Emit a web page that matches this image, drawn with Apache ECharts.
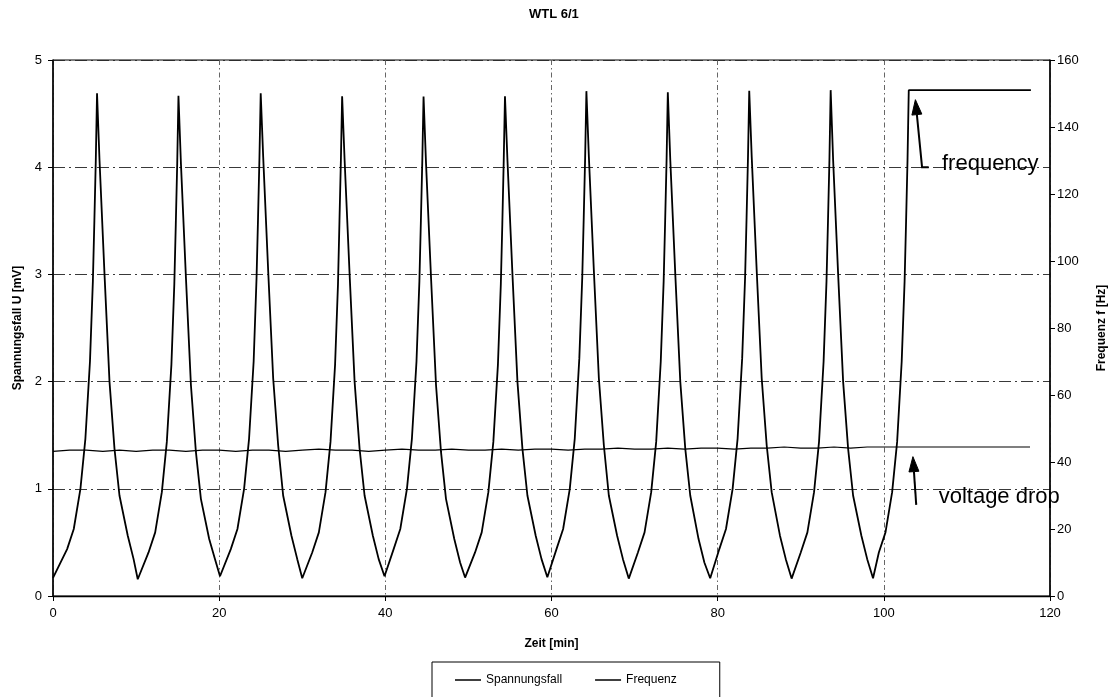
<!DOCTYPE html>
<html>
<head>
<meta charset="utf-8">
<script src="https://cdn.jsdelivr.net/npm/echarts@6/dist/echarts.min.js"></script>
<style>
  html, body { margin: 0; padding: 0; background: #fff; }
  #chart { width: 1116px; height: 697px; }
</style>
</head>
<body>
<div id="chart"></div>
<script>
// ---- chart data ----
const chartTitle = 'WTL 6/1';
const xName = 'Zeit [min]';
const yLeftName = 'Spannungsfall U [mV]';
const yRightName = 'Frequenz f [Hz]';
const seriesNames = ['Spannungsfall', 'Frequenz'];

const xRange = [0, 120, 20];      // min, max, step
const voltRange = [0, 5, 1];      // mV
const freqRange = [0, 160, 20];   // Hz

// Frequenz: periodic sweep, one row per cycle (time in min, value in Hz)
const freqTime = [
  0, 1.7, 2.5, 3.3, 3.9, 4.45, 4.8, 4.98, 5.15, 5.3, 5.6, 6.2, 6.8, 7.4, 8.0, 9.0, 9.7, 10.2,
  11.5, 12.3, 13.1, 13.7, 14.25, 14.6, 14.78, 14.95, 15.1, 15.4, 16.0, 16.6, 17.2, 17.8, 18.8, 19.5, 20.1,
  21.4, 22.2, 23.0, 23.6, 24.15, 24.5, 24.68, 24.85, 25.0, 25.3, 25.9, 26.5, 27.1, 27.7, 28.7, 29.4, 30.0,
  31.2, 32.0, 32.8, 33.4, 33.95, 34.3, 34.48, 34.65, 34.8, 35.1, 35.7, 36.3, 36.9, 37.5, 38.5, 39.2, 39.9,
  41.0, 41.8, 42.6, 43.2, 43.75, 44.1, 44.28, 44.45, 44.6, 44.9, 45.5, 46.1, 46.7, 47.3, 48.3, 49.0, 49.6,
  50.8, 51.6, 52.4, 53.0, 53.55, 53.9, 54.08, 54.25, 54.4, 54.7, 55.3, 55.9, 56.5, 57.1, 58.1, 58.8, 59.5,
  60.6, 61.4, 62.2, 62.8, 63.35, 63.7, 63.88, 64.05, 64.2, 64.5, 65.1, 65.7, 66.3, 66.9, 67.9, 68.6, 69.3,
  70.4, 71.2, 72.0, 72.6, 73.15, 73.5, 73.68, 73.85, 74.0, 74.3, 74.9, 75.5, 76.1, 76.7, 77.7, 78.4, 79.1,
  80.2, 81.0, 81.8, 82.4, 82.95, 83.3, 83.48, 83.65, 83.8, 84.1, 84.7, 85.3, 85.9, 86.5, 87.5, 88.2, 88.9,
  90.0, 90.8, 91.6, 92.2, 92.75, 93.1, 93.28, 93.45, 93.6, 93.9, 94.5, 95.1, 95.7, 96.3, 97.3, 98.0, 98.7,
  99.4, 100.2, 101.0, 101.6, 102.15, 102.5, 102.68, 102.85, 103.0, 117.7
];
const freqHz = [
  5.4, 14, 20, 32, 47, 70, 94, 112, 130, 150.1, 130, 96, 64, 44, 30, 18, 11, 5.0,
  13, 19, 31, 46, 69, 93, 111, 129, 149.3, 129, 95, 63, 43, 29, 17, 11, 5.9,
  14, 20, 32, 47, 70, 95, 113, 131, 150.1, 131, 97, 65, 45, 30, 18, 11, 5.3,
  13, 19, 31, 46, 69, 93, 112, 130, 149.2, 130, 96, 64, 44, 30, 18, 11, 5.9,
  14, 20, 32, 47, 70, 94, 112, 130, 149.1, 129, 95, 63, 43, 29, 17, 10, 5.5,
  13, 19, 31, 46, 69, 93, 111, 130, 149.2, 130, 96, 64, 44, 30, 18, 11, 5.6,
  14, 20, 32, 47, 71, 95, 113, 131, 150.7, 131, 97, 65, 45, 30, 18, 11, 5.2,
  13, 19, 31, 46, 70, 94, 112, 130, 150.4, 130, 96, 64, 44, 30, 17, 10, 5.3,
  14, 20, 32, 47, 71, 95, 113, 131, 150.8, 131, 97, 65, 45, 31, 18, 11, 5.2,
  13, 19, 31, 46, 70, 94, 112, 130, 151.0, 130, 96, 64, 44, 30, 18, 11, 5.3,
  13, 19, 31, 46, 70, 94, 112, 130, 151, 151
];

// Spannungsfall: nearly constant voltage drop (time in min, value in mV)
const voltTime = [
  0, 2, 4, 6, 8, 10, 12, 14, 16, 18, 20, 22, 24, 26, 28, 30, 32, 34, 36, 38,
  40, 42, 44, 46, 48, 50, 52, 54, 56, 58, 60, 62, 64, 66, 68, 70, 72, 74, 76, 78,
  80, 82, 84, 86, 88, 90, 92, 94, 96, 98, 100, 102, 117.6
];
const voltMV = [
  1.35, 1.36, 1.36, 1.35, 1.36, 1.35, 1.36, 1.36, 1.35, 1.36, 1.36, 1.35, 1.36, 1.36, 1.35, 1.36, 1.37, 1.36, 1.36, 1.35,
  1.36, 1.37, 1.36, 1.36, 1.37, 1.36, 1.36, 1.37, 1.36, 1.37, 1.37, 1.36, 1.37, 1.37, 1.38, 1.37, 1.37, 1.38, 1.37, 1.38,
  1.38, 1.37, 1.38, 1.38, 1.39, 1.38, 1.38, 1.39, 1.38, 1.39, 1.39, 1.39, 1.39
];

// Hand annotations (data coordinates: [min, mV])
const notes = [
  { text: 'frequency',    tip: [103.8, 4.63], tail: [104.6, 4.0], foot: [105.4, 4.0], label: [107.0, 4.03] },
  { text: 'voltage drop', tip: [103.5, 1.30], tail: [103.9, 0.85], foot: null,         label: [106.6, 0.92] }
];

// ---- chart ----
const FONT = 'Liberation Sans, Arial, Helvetica, sans-serif';
const zip = (xs, ys) => xs.map((x, i) => [x, ys[i]]);

const chart = echarts.init(document.getElementById('chart'), null, { renderer: 'canvas' });

const gridLine = (dash, color) => ({ show: true, lineStyle: { color: color, width: 0.9, type: dash } });

const option = {
  backgroundColor: '#ffffff',
  animation: false,
  title: {
    text: chartTitle,
    left: 529,
    top: 8,
    padding: 0,
    textStyle: { fontFamily: FONT, fontSize: 13, fontWeight: 'bold', color: '#000' }
  },
  legend: {
    data: seriesNames,
    left: 432,
    top: 662,
    orient: 'horizontal',
    padding: [12, 43, 20, 23],
    itemGap: 33,
    itemWidth: 26,
    itemHeight: 1.5,
    icon: 'rect',
    borderColor: '#000',
    borderWidth: 1,
    textStyle: { fontFamily: FONT, fontSize: 12, color: '#000' }
  },
  grid: {
    left: 53, right: 64, top: 60, bottom: 101,
    show: true, borderColor: '#000', borderWidth: 1, backgroundColor: 'transparent'
  },
  xAxis: {
    type: 'value', min: xRange[0], max: xRange[1], interval: xRange[2],
    name: xName, nameLocation: 'middle', nameGap: 42,
    nameTextStyle: { fontFamily: FONT, fontSize: 12, fontWeight: 'bold', color: '#000' },
    axisLine: { show: true, onZero: false, lineStyle: { color: '#000', width: 1.3 } },
    axisTick: { show: true, inside: false, length: 5, lineStyle: { color: '#000' } },
    axisLabel: { fontFamily: FONT, fontSize: 13, color: '#000', margin: 11 },
    splitLine: gridLine([5, 3, 1.5, 3], '#555')
  },
  yAxis: [
    {
      type: 'value', min: voltRange[0], max: voltRange[1], interval: voltRange[2], position: 'left',
      name: yLeftName, nameLocation: 'middle', nameGap: 28, nameRotate: 90,
      nameTextStyle: { fontFamily: FONT, fontSize: 12, fontWeight: 'bold', color: '#000' },
      axisLine: { show: true, lineStyle: { color: '#000', width: 1.5 } },
      axisTick: { show: true, inside: false, length: 5, lineStyle: { color: '#000' } },
      axisLabel: { fontFamily: FONT, fontSize: 13, color: '#000', margin: 11 },
      splitLine: gridLine([12, 4, 2, 4], '#222')
    },
    {
      type: 'value', min: freqRange[0], max: freqRange[1], interval: freqRange[2], position: 'right',
      name: yRightName, nameLocation: 'middle', nameGap: 46, nameRotate: 90,
      nameTextStyle: { fontFamily: FONT, fontSize: 12, fontWeight: 'bold', color: '#000' },
      axisLine: { show: true, lineStyle: { color: '#000', width: 1.5 } },
      axisTick: { show: true, inside: false, length: 5, lineStyle: { color: '#000' } },
      axisLabel: { fontFamily: FONT, fontSize: 13, color: '#000', margin: 7 },
      splitLine: { show: false }
    }
  ],
  series: [
    {
      name: seriesNames[0], type: 'line', xAxisIndex: 0, yAxisIndex: 0,
      data: zip(voltTime, voltMV),
      showSymbol: false, symbol: 'none',
      lineStyle: { color: '#000', width: 1.2 }, itemStyle: { color: '#000' },
      z: 3
    },
    {
      name: seriesNames[1], type: 'line', xAxisIndex: 0, yAxisIndex: 1,
      data: zip(freqTime, freqHz),
      showSymbol: false, symbol: 'none',
      lineStyle: { color: '#000', width: 1.8 }, itemStyle: { color: '#000' },
      z: 4
    }
  ]
};

chart.setOption(option);

// Arrows and note texts, placed in data coordinates
function toPx(pt) { return chart.convertToPixel({ xAxisIndex: 0, yAxisIndex: 0 }, pt); }

const elements = [];
notes.forEach(n => {
  const tip = toPx(n.tip), tail = toPx(n.tail), lab = toPx(n.label);
  const dx = tip[0] - tail[0], dy = tip[1] - tail[1];
  const len = Math.sqrt(dx * dx + dy * dy);
  const ux = dx / len, uy = dy / len;
  const headLen = 15, headHalf = 5;
  const bx = tip[0] - ux * headLen, by = tip[1] - uy * headLen;
  elements.push({
    type: 'polyline', silent: true,
    shape: { points: n.foot ? [[bx, by], tail, toPx(n.foot)] : [[bx, by], tail] },
    style: { stroke: '#000', lineWidth: 2, fill: null }
  });
  elements.push({
    type: 'polygon', silent: true,
    shape: { points: [tip, [bx - uy * headHalf, by + ux * headHalf], [bx + uy * headHalf, by - ux * headHalf]] },
    style: { fill: '#000', stroke: '#000', lineWidth: 1 }
  });
  elements.push({
    type: 'text', silent: true, x: lab[0], y: lab[1],
    style: { text: n.text, fontFamily: FONT, fontSize: 22, fill: '#000', align: 'left', verticalAlign: 'middle' }
  });
});
chart.setOption({ graphic: elements });
</script>
</body>
</html>
